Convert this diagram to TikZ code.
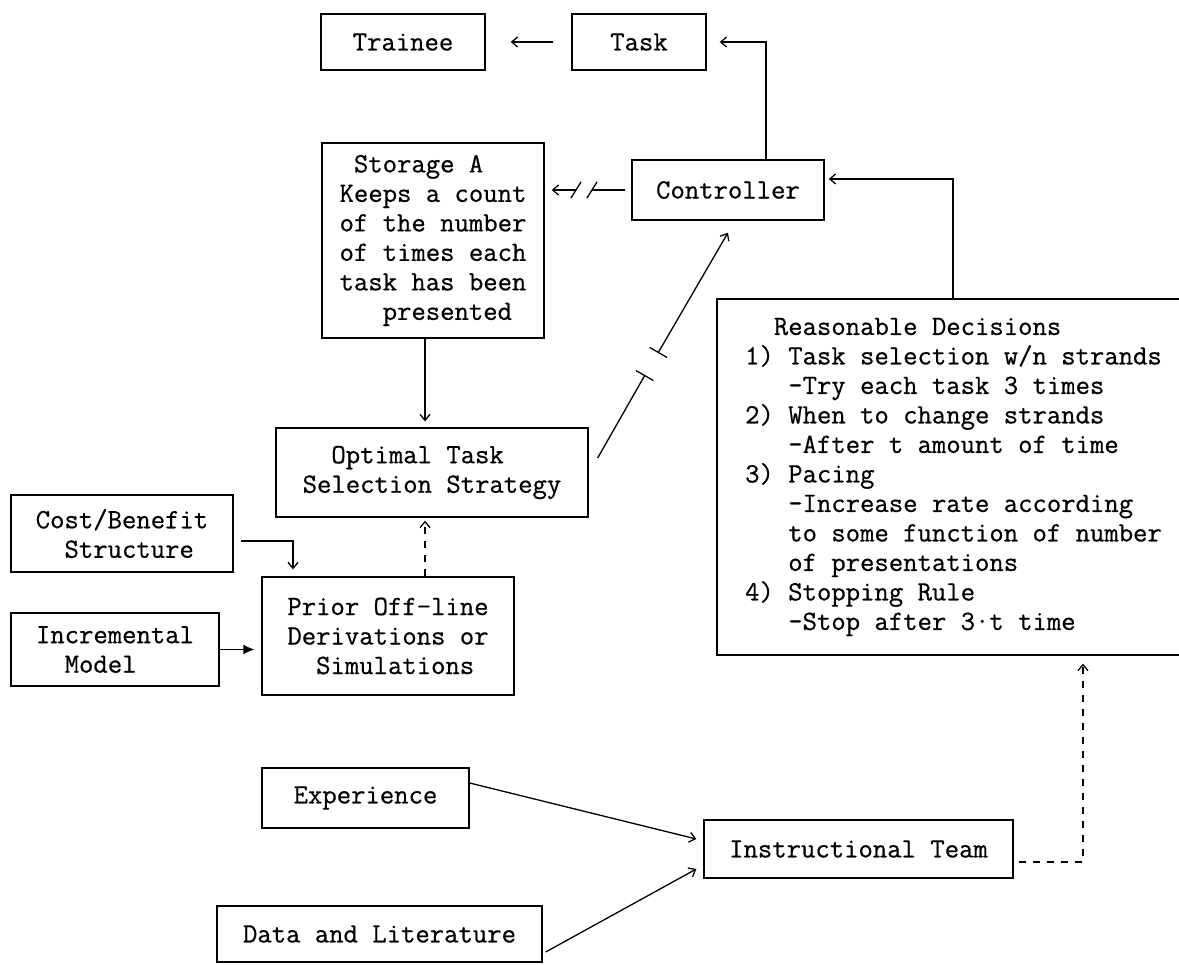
\documentclass[tikz,border=0pt]{standalone}
\usepackage{fontspec}
\newfontfamily\typew{Latin Modern Mono}[FakeBold=0.6]
\usetikzlibrary{arrows.meta,calc}
\begin{document}
\begin{tikzpicture}[x=1pt,y=-1pt,
  box/.style={draw,line width=1.3pt,inner sep=0pt,align=center,font=\typew\fontsize{27.9}{29.5}\selectfont},
  lbox/.style={box,align=left},
  conn/.style={line width=1.3pt},
  arr/.style={conn,-{Straight Barb[length=6pt,width=10pt,line width=1.3pt]}},
  bold arr/.style={conn,-{Latex[length=11pt,width=10pt]}},
  dsh/.style={dash pattern=on 7pt off 7pt}]
\useasboundingbox[fill=white] (0,0) rectangle (1179,965);

% boxes
\node[box,minimum width=164pt,minimum height=56pt] (trainee) at (403,42) {Trainee};
\node[box,minimum width=134pt,minimum height=56pt] (task) at (639,42) {Task};
\node[lbox,minimum width=222pt,minimum height=195pt] (stor) at (433,240.5)
  {\phantom{x}Storage A\\Keeps a count\\of the number\\of times each\\task has been\\\phantom{xxx}presented};
\node[box,minimum width=192pt,minimum height=60pt] (ctrl) at (728,190) {Controller};
\node[lbox,minimum width=473pt,minimum height=356pt] (rd) at (953.5,477)
  {\phantom{xx}Reasonable Decisions\\
   1) Task selection w/n strands\\
   \phantom{xxx}-Try each task 3 times\\
   2) When to change strands\\
   \phantom{xxx}-After t amount of time\\
   3) Pacing\\
   \phantom{xxx}-Increase rate according\\
   \phantom{xxx}to some function of number\\
   \phantom{xxx}of presentations\\
   4) Stopping Rule\\
   \phantom{xxx}-Stop after 3·t time};
\node[lbox,minimum width=312pt,minimum height=89pt] (opt) at (432,472.5)
  {\phantom{xx}Optimal Task\\Selection Strategy};
\node[lbox,minimum width=222pt,minimum height=77pt] (cost) at (122,533.5)
  {Cost/Benefit\\\phantom{xx}Structure};
\node[lbox,minimum width=252pt,minimum height=118pt] (prior) at (388,636)
  {Prior Off-line\\Derivations or\\\phantom{xx}Simulations};
\node[lbox,minimum width=208pt,minimum height=73pt] (incr) at (115,649.5)
  {Incremental\\\phantom{xx}Model};
\node[box,minimum width=207pt,minimum height=60pt] (exp) at (365.5,798) {Experience};
\node[box,minimum width=325pt,minimum height=56pt] (data) at (379.5,934) {Data and Literature};
\node[box,minimum width=309pt,minimum height=58pt] (inst) at (858.5,849) {Instructional Team};

% helper coordinates
\coordinate (cx) at (766,0);
\coordinate (rx) at (953,0);
\coordinate (vx) at (425,0);
\coordinate (cy) at (0,541);
\coordinate (cx2) at (293,0);
\coordinate (ax) at (1083,0);
\coordinate (s1) at (592,190);
\coordinate (s2) at (576,190);
\coordinate (b0) at ($(opt.east)+(9,-14.5)$);
\coordinate (b1) at (645,375);
\coordinate (b2) at (658,353);
\coordinate (bt) at ($(ctrl.south)+(0,12)$);

% connectors
\draw[arr,shorten <=18pt,shorten >=25pt] (task.west) -- (trainee.east);
\draw[arr,shorten >=13pt] (ctrl.north -| cx) |- (task.east);
\draw[arr,shorten >=4pt] (rd.north -| rx) |- ([yshift=11pt]ctrl.east);
\draw[conn,shorten <=6pt] (ctrl.west) -- (s1);
\draw[arr,shorten >=7pt] (s2) -- (ctrl.west -| stor.east);
\draw[conn] ($(s1)+(-5,8)$) -- ($(s1)+(5,-8)$);
\draw[conn] ($(s2)+(-5,8)$) -- ($(s2)+(5,-8)$);
\draw[arr,shorten >=6pt] (stor.south -| vx) -- (opt.north -| vx);
\draw[arr,dsh,shorten >=3pt] (prior.north -| vx) -- (opt.south -| vx);
\draw[conn,-{Bar[width=20pt,line width=1.3pt]}] (b0) -- (b1);
\draw[conn,{Bar[width=20pt,line width=1.3pt]}-{Straight Barb[length=6pt,width=10pt,line width=1.3pt]}] (b2) -- (bt);
\draw[arr,shorten <=7pt,shorten >=7pt] (cost.east |- cy) -| (prior.north -| cx2);
\draw[bold arr,shorten >=7pt] (incr.east) -- (incr.east -| prior.west);
\draw[arr] ([yshift=15pt]exp.east) -- ([xshift=-7pt,yshift=10pt]inst.west);
\draw[arr] ([xshift=3pt,yshift=-18pt]data.east) -- ([xshift=-7pt,yshift=-20pt]inst.west);
\draw[arr,dsh] ([xshift=5pt,yshift=-13pt]inst.east) -| ([yshift=-8pt]rd.south -| ax);
\end{tikzpicture}
\end{document}
